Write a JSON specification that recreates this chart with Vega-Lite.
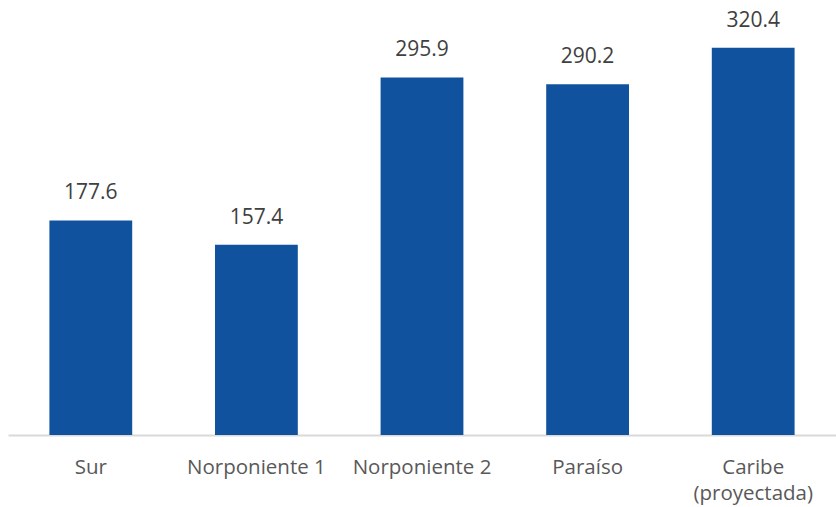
{
  "$schema": "https://vega.github.io/schema/vega-lite/v6.json",
  "width": 828,
  "height": 435,
  "autosize": {"type": "none"},
  "padding": {"left": 8, "top": 0, "right": 0, "bottom": 72},
  "background": "white",
  "config": {"view": {"stroke": null}, "font": "Open Sans"},
  "data": {
    "values": [
      {"zona": "Sur", "valor": 177.6},
      {"zona": "Norponiente 1", "valor": 157.4},
      {"zona": "Norponiente 2", "valor": 295.9},
      {"zona": "Paraíso", "valor": 290.2},
      {"zona": "Caribe (proyectada)", "valor": 320.4}
    ]
  },
  "encoding": {
    "x": {
      "field": "zona",
      "type": "nominal",
      "sort": null,
      "scale": {"paddingInner": 0.5, "paddingOuter": 0.25},
      "axis": {
        "title": null,
        "labelAngle": 0,
        "labelFont": "Open Sans",
        "labelFontSize": 20.5,
        "labelColor": "#595959",
        "labelPadding": 22,
        "labelLineHeight": 26,
        "labelOverlap": false,
        "labelBound": false,
        "labelFlush": false,
        "labelLimit": 0,
        "labelExpr": "datum.value == 'Caribe (proyectada)' ? ['Caribe', '(proyectada)'] : datum.value",
        "ticks": false,
        "domainColor": "#D9D9D9",
        "domainWidth": 2
      }
    },
    "y": {
      "field": "valor",
      "type": "quantitative",
      "scale": {"domain": [0, 360]},
      "axis": null
    }
  },
  "layer": [
    {"mark": {"type": "bar", "color": "#11529E"}},
    {
      "mark": {"type": "text", "dy": -27, "fontSize": 21, "color": "#404040", "font": "Open Sans"},
      "encoding": {"text": {"field": "valor", "type": "quantitative", "format": ".1f"}}
    }
  ]
}
